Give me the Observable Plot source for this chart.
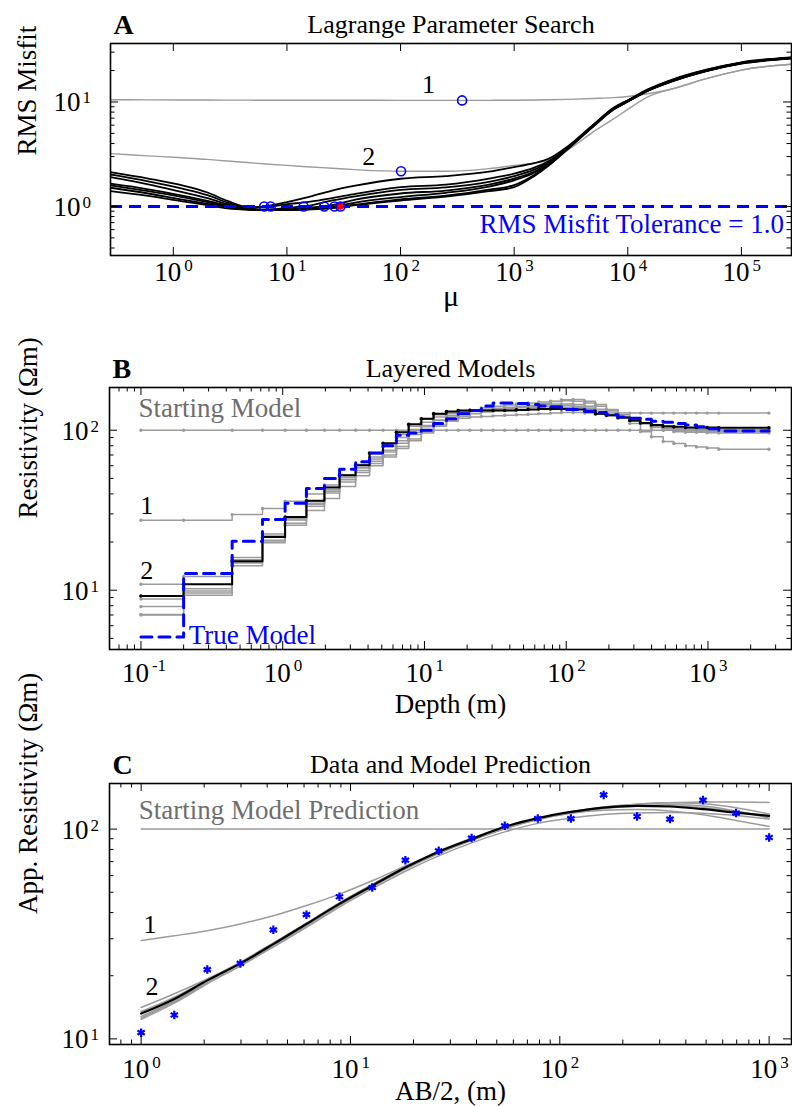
<!DOCTYPE html>
<html><head><meta charset="utf-8">
<script src="https://cdn.jsdelivr.net/npm/d3@7"></script>
<script src="https://cdn.jsdelivr.net/npm/@observablehq/plot@0.6"></script>
<style>
body{margin:0;background:#fff;}
#fig{width:792px;}
#fig svg{display:block;font-family:"Liberation Serif","Times New Roman",serif !important;}
#fig svg text{font-family:"Liberation Serif","Times New Roman",serif !important;}
</style></head><body><div id="fig"></div>
<script>
// ---------- Panel A: Lagrange parameter search ----------
const muGrid = [0.28, 0.6, 1.2, 2, 3, 4.5, 6.5, 10, 15, 25, 40, 100, 250, 600, 1000, 1500, 2000, 3000, 5000, 7500, 10000, 15000, 25000, 50000, 100000, 276000];
const misfitIter1 = [10.5, 10.48, 10.45, 10.43, 10.42, 10.41, 10.4, 10.4, 10.4, 10.4, 10.4, 10.35, 10.35, 10.37, 10.4, 10.45, 10.5, 10.6, 10.8, 11.0, 11.3, 12.0, 13.4, 16.8, 20.2, 23];
const misfitIter2 = [3.2, 3.05, 2.92, 2.82, 2.72, 2.63, 2.55, 2.47, 2.4, 2.32, 2.25, 2.17, 2.17, 2.3, 2.47, 2.6, 2.76, 3.5, 5.2, 6.9, 8.5, 11.2, 13.4, 16.8, 20.2, 23];
const misfitIter3 = [1.65, 1.46, 1.27, 1.13, 1.02, 0.97, 1.005, 1.1, 1.22, 1.42, 1.58, 1.84, 1.95, 2.15, 2.38, 2.6, 2.85, 3.8, 6.1, 8.8, 10.4, 13.2, 16.5, 20.5, 24, 26.8];
const misfitIter4 = [2.13, 1.85, 1.59, 1.36, 1.13, 0.99, 0.985, 1.05, 1.1, 1.2, 1.32, 1.53, 1.62, 1.85, 2.06, 2.35, 2.7, 3.72, 6.05, 8.7, 10.3, 13.1, 16.3, 20.3, 23.8, 26.6];
const misfitIter5 = [1.51, 1.33, 1.16, 1.06, 0.98, 0.935, 0.93, 0.97, 1.01, 1.14, 1.25, 1.44, 1.52, 1.72, 1.95, 2.25, 2.62, 3.68, 6.0, 8.65, 10.25, 13.0, 16.2, 20.2, 23.7, 26.5];
const misfitIter6 = [2.03, 1.74, 1.48, 1.28, 1.09, 0.96, 0.93, 0.94, 0.97, 1.03, 1.16, 1.33, 1.42, 1.62, 1.85, 2.15, 2.56, 3.65, 5.95, 8.6, 10.2, 12.9, 16.1, 20.1, 23.6, 26.4];
const misfitIter7 = [1.40, 1.26, 1.12, 1.03, 0.96, 0.93, 0.92, 0.93, 0.95, 0.995, 1.09, 1.23, 1.35, 1.55, 1.78, 2.1, 2.52, 3.63, 5.9, 8.55, 10.15, 12.85, 16.0, 20.0, 23.5, 26.3];
const misfitIter8 = [1.91, 1.63, 1.37, 1.2, 1.05, 0.95, 0.925, 0.925, 0.94, 0.975, 1.04, 1.17, 1.27, 1.45, 1.6, 2.0, 2.48, 3.6, 5.9, 8.5, 10.1, 12.8, 15.9, 19.9, 23.4, 26.2];
const misfitIter9 = [1.59, 1.40, 1.23, 1.1, 1.0, 0.94, 0.92, 0.92, 0.935, 0.965, 1.03, 1.14, 1.24, 1.4, 1.53, 1.95, 2.45, 3.58, 5.85, 8.45, 10.05, 12.75, 15.8, 19.8, 23.3, 26.1];
const chosenMuGray = [348, 101];
const chosenMisfitGray = [10.35, 2.17];
const chosenMuBlack = [6.3, 7.2, 14, 21.3, 26.2, 29.6];
const chosenMisfitBlack = [1, 1, 1, 1, 1, 1];
const finalMu = 29.6, finalMisfit = 1;
const misfitTolerance = 1.0;

// ---------- Panel B: layered models ----------
const layerTop = [0.1, 0.2, 0.44, 0.72, 1.04, 1.47, 1.97, 2.52, 3.27, 4.1, 5.1, 6.34, 7.74, 9.5, 11.6, 14.3, 17.3, 20.9, 25.2, 30.5, 36.8, 44.5, 53.8, 63.9, 77.4, 92.5, 112, 135, 161, 192, 232, 281, 334, 399, 483, 574, 694, 830, 987, 1192];
const layerEnd = 2690;
const startModel = [100, 100, 100, 100, 100, 100, 100, 100, 100, 100, 100, 100, 100, 100, 100, 100, 100, 100, 100, 100, 100, 100, 100, 100, 100, 100, 100, 100, 100, 100, 100, 100, 100, 100, 100, 100, 100, 100, 100, 100];
const model1 = [27.4, 27.4, 29.7, 32.4, 36, 40, 45.5, 52, 58, 66, 75, 86, 97, 107, 116, 123, 128, 131, 133, 135, 137, 138, 139, 140, 140, 139, 138, 137, 135, 134, 128, 128, 128, 128, 128, 128, 128, 128, 128, 128];
const model2 = [10.9, 12.2, 16, 22.5, 28, 34.5, 41.5, 49, 56, 64, 73, 83, 94, 105, 115, 123, 129, 134, 138, 141, 144, 146, 148, 150, 152, 153, 152, 148, 141, 132, 122, 110, 98, 91, 85, 82.6, 80, 78.7, 77.5, 76];
const model3 = [8.8, 10.2, 15, 20.5, 27.5, 35, 42.5, 50.5, 58.5, 68, 79, 90, 101, 112, 121, 127, 131, 133, 135, 137, 139, 141, 143, 145, 146, 146, 145, 141, 135, 128, 121, 115, 110, 106, 103, 101, 100, 100, 99, 99];
const model4 = [7.9, 9.6, 14.2, 19.8, 26.2, 33.5, 40.5, 47.5, 54.5, 62, 70, 79, 88, 98, 108, 116, 122, 127, 130, 133, 136, 139, 143, 147, 151, 155, 155.5, 152, 145, 135, 125, 117, 110, 104, 100, 98, 97, 97, 96.5, 96];
const model5 = [7.05, 9.3, 14.8, 20.3, 25.5, 31.5, 37.5, 44.5, 52, 60, 68, 77, 86, 96, 106, 114, 119, 121, 122, 123, 124, 125, 126, 127, 128, 129, 129, 128, 126, 123, 119, 115, 110, 106, 102, 100, 99, 98.5, 98, 98];
const model6 = [7.0, 9.9, 15.5, 21.8, 28.5, 36, 44, 52.5, 61, 71, 82, 94, 106, 117, 125, 130, 133, 134, 135, 136, 137, 139, 141, 142, 143, 143, 141, 137, 131, 125, 119, 114, 110, 107, 104, 103, 102, 101.5, 101, 101];
const finalModel = [9.2, 10.9, 15.2, 21.5, 28.7, 36.2, 43.8, 52.4, 60.4, 72, 83, 97, 109, 118, 127, 131, 133, 133, 133, 133, 133, 134, 135, 136, 136, 136, 135, 133, 127, 124, 120, 115, 111, 108, 106, 105, 104, 104, 104, 103.5];
const trueModel = [5.1, 12.7, 20.2, 27.7, 35, 43.3, 50, 57, 63.5, 72, 80, 93, 96, 100, 110, 118, 127, 133, 142, 148, 148, 147, 145, 142, 140, 135, 135, 131, 129, 125, 121, 119, 117, 114, 112, 110, 108, 105, 102, 99];

// ---------- Panel C: data and model prediction ----------
const abHalf = [1, 1.44, 2.07, 2.98, 4.28, 6.16, 8.86, 12.7, 18.3, 26.4, 37.9, 54.6, 78.5, 113, 162, 234, 336, 483, 695, 1000];
const appResData = [10.7, 13.0, 21.4, 22.9, 33.1, 39.1, 47.6, 52.7, 71.1, 78.8, 90.6, 103.7, 112.3, 112.3, 145.6, 114.8, 111.6, 137.5, 119.2, 91.2];
const predStart = [100, 100, 100, 100, 100, 100, 100, 100, 100, 100, 100, 100, 100, 100, 100, 100, 100, 100, 100, 100];
const pred1 = [29.4, 31, 32.8, 35.3, 38.6, 43.2, 49, 56.7, 66.8, 77.5, 89, 101, 112, 121, 127.5, 131.5, 133.5, 134.5, 134.5, 134];
const pred2 = [14.1, 16.4, 19.3, 23, 28.5, 35.5, 44.5, 54.5, 66, 78.5, 90.5, 102.5, 112, 119, 123, 124, 122, 117, 110, 103];
const pred3 = [12.4, 14.8, 18.3, 22.3, 27.6, 34.5, 43.2, 53, 64.5, 76.5, 88.5, 100.5, 111, 119.5, 125.5, 128.5, 129, 126.5, 121.5, 115];
const pred4 = [12.8, 15.2, 18.8, 22.8, 28.2, 35.2, 43.8, 53.5, 65, 77, 88.5, 100.5, 111.5, 120.5, 127, 131.5, 133.5, 132, 126.5, 118];
const pred5 = [12.6, 15, 18.5, 22.3, 27.4, 34, 42.5, 52, 63, 74.5, 86, 97, 106.5, 113, 117.5, 119.5, 120, 119, 116, 111.6];
const pred6 = [13.5, 15.8, 19.2, 23.2, 28.7, 35.6, 44.5, 54.3, 66, 78.3, 90, 102, 112.5, 120.5, 126, 129.5, 130.5, 129, 122, 113];
const predFinal = [13.2, 15.5, 19, 22.9, 28.3, 35.3, 44, 53.7, 65.6, 78, 89.6, 102.6, 112.8, 120.8, 126.7, 129.1, 128.2, 124.5, 119.9, 115.6];

// ---------- helpers ----------
const W = 792;
const FONT = "Liberation Serif";
const GRAY = "#9b9b9b";
const BLUE = "#0000ff";

function logRange(lo, hi, mults) {
  const out = [];
  for (let e = Math.floor(Math.log10(lo)) - 1; e <= Math.ceil(Math.log10(hi)); e++) {
    for (const m of mults) {
      const v = +(m * Math.pow(10, e)).toPrecision(6);
      if (v >= lo && v <= hi) out.push(v);
    }
  }
  return out;
}
function boxTicks(xd, yd, fw, fh, xMinor) {
  const xM = logRange(xd[0], xd[1], [1]);
  const xm = xMinor ? logRange(xd[0], xd[1], [2, 3, 4, 5, 6, 7, 8, 9]) : [];
  const yM = logRange(yd[0], yd[1], [1]);
  const ym = logRange(yd[0], yd[1], [2, 3, 4, 5, 6, 7, 8, 9]);
  const L = 8, l = 4.5;
  const o = {stroke: "black", strokeWidth: 1};
  return [
    Plot.tickX(xM, {x: d => d, insetTop: fh - L, ...o}),
    Plot.tickX(xM, {x: d => d, insetBottom: fh - L, ...o}),
    Plot.tickX(xm, {x: d => d, insetTop: fh - l, ...o}),
    Plot.tickX(xm, {x: d => d, insetBottom: fh - l, ...o}),
    Plot.tickY(yM, {y: d => d, insetRight: fw - L, ...o}),
    Plot.tickY(yM, {y: d => d, insetLeft: fw - L, ...o}),
    Plot.tickY(ym, {y: d => d, insetRight: fw - l, ...o}),
    Plot.tickY(ym, {y: d => d, insetLeft: fw - l, ...o})
  ];
}
function xTickLabels(vals, base, sup) {
  return [
    Plot.text(vals, {x: d => d, text: () => "10", frameAnchor: "bottom", lineAnchor: "bottom", textAnchor: "end", dx: 8, dy: base, fontSize: 27, fontFamily: FONT}),
    Plot.text(vals, {x: d => d, text: d => String(Math.round(Math.log10(d))), frameAnchor: "bottom", lineAnchor: "bottom", textAnchor: "start", dx: 11, dy: sup, fontSize: 17, fontFamily: FONT})
  ];
}
function yTickLabels(vals, gap) {
  return [
    Plot.text(vals, {y: d => d, text: () => "10", frameAnchor: "left", lineAnchor: "bottom", textAnchor: "end", dx: -gap, dy: 9.5, fontSize: 27, fontFamily: FONT}),
    Plot.text(vals, {y: d => d, text: d => String(Math.round(Math.log10(d))), frameAnchor: "left", lineAnchor: "bottom", textAnchor: "start", dx: -gap + 2, dy: 1.5, fontSize: 17, fontFamily: FONT})
  ];
}
function heading(letter, title) {
  return [
    Plot.text([letter], {text: d => d, frameAnchor: "top-left", textAnchor: "start", lineAnchor: "bottom", dx: 3, dy: -10, fontSize: 28, fontWeight: "bold", fontFamily: FONT}),
    Plot.text([title], {text: d => d, frameAnchor: "top", lineAnchor: "bottom", dy: -10.5, fontSize: 26, fontFamily: FONT})
  ];
}
const style = {fontFamily: FONT, background: "white", overflow: "visible", color: "black"};

// ---------- Panel A ----------
const grayA = [];
[misfitIter1, misfitIter2].forEach((arr, k) => arr.forEach((v, i) => grayA.push({mu: muGrid[i], v, id: k})));
const blackA = [];
[misfitIter3, misfitIter4, misfitIter5, misfitIter6, misfitIter7, misfitIter8, misfitIter9].forEach((arr, k) => arr.forEach((v, i) => blackA.push({mu: muGrid[i], v, id: k})));
const circA = chosenMuGray.map((m, i) => ({mu: m, v: chosenMisfitGray[i]}))
  .concat(chosenMuBlack.map((m, i) => ({mu: m, v: chosenMisfitBlack[i]})));

const xdA = [0.28, 276000], ydA = [0.339, 36.3];
const plotA = Plot.plot({
  width: W, height: 320, marginLeft: 110, marginRight: 1, marginTop: 43, marginBottom: 65,
  style,
  x: {type: "log", domain: xdA, axis: null},
  y: {type: "log", domain: ydA, axis: null},
  marks: [
    Plot.line(grayA, {x: "mu", y: "v", z: "id", stroke: GRAY, strokeWidth: 1.4, curve: "monotone-x", clip: true}),
    Plot.line(blackA, {x: "mu", y: "v", z: "id", stroke: "black", strokeWidth: 1.8, curve: "monotone-x", clip: true}),
    Plot.ruleY([misfitTolerance], {stroke: BLUE, strokeWidth: 3, strokeDasharray: "12,7"}),
    Plot.dot(circA, {x: "mu", y: "v", r: 4.5, stroke: BLUE, strokeWidth: 1.6, fill: "none"}),
    Plot.dot([{mu: finalMu, v: finalMisfit}], {x: "mu", y: "v", r: 3.2, fill: "#ff0000", stroke: "none"}),
    Plot.text(["1"], {text: d => d, x: () => 176, y: () => 12.1, lineAnchor: "bottom", fontSize: 26, fontFamily: FONT}),
    Plot.text(["2"], {text: d => d, x: () => 52.4, y: () => 2.47, lineAnchor: "bottom", fontSize: 26, fontFamily: FONT}),
    Plot.text(["RMS Misfit Tolerance = 1.0"], {text: d => d, x: () => 237000, y: () => 0.551, textAnchor: "end", lineAnchor: "bottom", fontSize: 27, fill: BLUE, fontFamily: FONT}),
    Plot.frame({stroke: "black", strokeWidth: 1.6}),
    ...boxTicks(xdA, ydA, 681, 212, false),
    ...xTickLabels([1, 10, 100, 1000, 10000, 100000], 25, 15),
    ...yTickLabels([1, 10], 30),
    ...heading("A", "Lagrange Parameter Search"),
    Plot.text(["μ"], {text: d => d, frameAnchor: "bottom", lineAnchor: "bottom", dy: 50, fontSize: 30, fontFamily: FONT}),
    Plot.text(["RMS Misfit"], {text: d => d, frameAnchor: "left", rotate: -90, dx: -83, dy: 6, fontSize: 27, fontFamily: FONT})
  ]
});

// ---------- Panel B ----------
function stepRows(models) {
  const rows = [];
  models.forEach((arr, k) => {
    arr.forEach((r, i) => rows.push({d: layerTop[i], r, id: k}));
    rows.push({d: layerEnd, r: arr[arr.length - 1], id: k});
  });
  return rows;
}
const grayB = stepRows([startModel, model1, model2, model3, model4, model5, model6]);
const blackB = stepRows([finalModel]);
const trueB = stepRows([trueModel]);
const xdB = [0.06, 3883], ydB = [4.26, 185];
const plotB = Plot.plot({
  width: W, height: 400, marginLeft: 109, marginRight: 1, marginTop: 67, marginBottom: 71,
  style,
  x: {type: "log", domain: xdB, axis: null},
  y: {type: "log", domain: ydB, axis: null},
  marks: [
    Plot.line(grayB, {x: "d", y: "r", z: "id", stroke: GRAY, strokeWidth: 1.5, curve: "step-after", clip: true}),
    Plot.dot(grayB, {x: "d", y: "r", r: 1.7, fill: GRAY, stroke: "none"}),
    Plot.line(blackB, {x: "d", y: "r", stroke: "black", strokeWidth: 2, curve: "step-after", clip: true}),
    Plot.dot(blackB, {x: "d", y: "r", r: 1.8, fill: "black", stroke: "none"}),
    Plot.line(trueB, {x: "d", y: "r", stroke: BLUE, strokeWidth: 3, strokeDasharray: "11,7", curve: "step-after", clip: true}),
    Plot.text(["Starting Model"], {text: d => d, x: () => 0.0962, y: () => 121, textAnchor: "start", lineAnchor: "bottom", fontSize: 27, fill: "#6e6e6e", fontFamily: FONT}),
    Plot.text(["1"], {text: d => d, x: () => 0.0988, y: () => 30.1, textAnchor: "start", lineAnchor: "bottom", fontSize: 26, fontFamily: FONT}),
    Plot.text(["2"], {text: d => d, x: () => 0.0988, y: () => 11.8, textAnchor: "start", lineAnchor: "bottom", fontSize: 26, fontFamily: FONT}),
    Plot.text(["True Model"], {text: d => d, x: () => 0.217, y: () => 4.64, textAnchor: "start", lineAnchor: "bottom", fontSize: 27, fill: BLUE, fontFamily: FONT}),
    Plot.frame({stroke: "black", strokeWidth: 1.6}),
    ...boxTicks(xdB, ydB, 682, 262, true),
    ...xTickLabels([0.1, 1, 10, 100, 1000], 32, 21),
    ...yTickLabels([10, 100], 21),
    ...heading("B", "Layered Models"),
    Plot.text(["Depth (m)"], {text: d => d, frameAnchor: "bottom", lineAnchor: "bottom", dy: 63, fontSize: 27, fontFamily: FONT}),
    Plot.text(["Resistivity (Ωm)"], {text: d => d, frameAnchor: "left", rotate: -90, dx: -81.5, fontSize: 27, fontFamily: FONT})
  ]
});

// ---------- Panel C ----------
function curveRows(models) {
  const rows = [];
  models.forEach((arr, k) => arr.forEach((r, i) => rows.push({a: abHalf[i], r, id: k})));
  return rows;
}
const grayC = curveRows([predStart, pred1, pred2, pred3, pred4, pred5, pred6]);
const blackC = curveRows([predFinal]);
const dataC = abHalf.map((a, i) => ({a, r: appResData[i]}));
const xdC = [0.706, 1279], ydC = [9.4, 165];
const plotC = Plot.plot({
  width: W, height: 386, marginLeft: 109, marginRight: 1, marginTop: 63, marginBottom: 62,
  style,
  x: {type: "log", domain: xdC, axis: null},
  y: {type: "log", domain: ydC, axis: null},
  marks: [
    Plot.line(grayC, {x: "a", y: "r", z: "id", stroke: GRAY, strokeWidth: 1.5, curve: "monotone-x", clip: true}),
    Plot.line(blackC, {x: "a", y: "r", stroke: "black", strokeWidth: 2.2, curve: "monotone-x", clip: true}),
    Plot.dot(dataC, {x: "a", y: "r", symbol: "asterisk", r: 4, stroke: BLUE, strokeWidth: 2.2}),
    Plot.text(["Starting Model Prediction"], {text: d => d, x: () => 0.974, y: () => 112, textAnchor: "start", lineAnchor: "bottom", fontSize: 27, fill: "#6e6e6e", fontFamily: FONT}),
    Plot.text(["1"], {text: d => d, x: () => 1.025, y: () => 32.1, textAnchor: "start", lineAnchor: "bottom", fontSize: 26, fontFamily: FONT}),
    Plot.text(["2"], {text: d => d, x: () => 1.048, y: () => 16.1, textAnchor: "start", lineAnchor: "bottom", fontSize: 26, fontFamily: FONT}),
    Plot.frame({stroke: "black", strokeWidth: 1.6}),
    ...boxTicks(xdC, ydC, 682, 261, true),
    ...xTickLabels([1, 10, 100, 1000], 33, 23),
    ...yTickLabels([10, 100], 21),
    ...heading("C", "Data and Model Prediction"),
    Plot.text(["AB/2, (m)"], {text: d => d, frameAnchor: "bottom", lineAnchor: "bottom", dy: 55, fontSize: 27, fontFamily: FONT}),
    Plot.text(["App. Resistivity (Ωm)"], {text: d => d, frameAnchor: "left", rotate: -90, dx: -81.5, fontSize: 27, fontFamily: FONT})
  ]
});

const fig = document.getElementById("fig");
fig.appendChild(plotA);
fig.appendChild(plotB);
fig.appendChild(plotC);
</script></body></html>
